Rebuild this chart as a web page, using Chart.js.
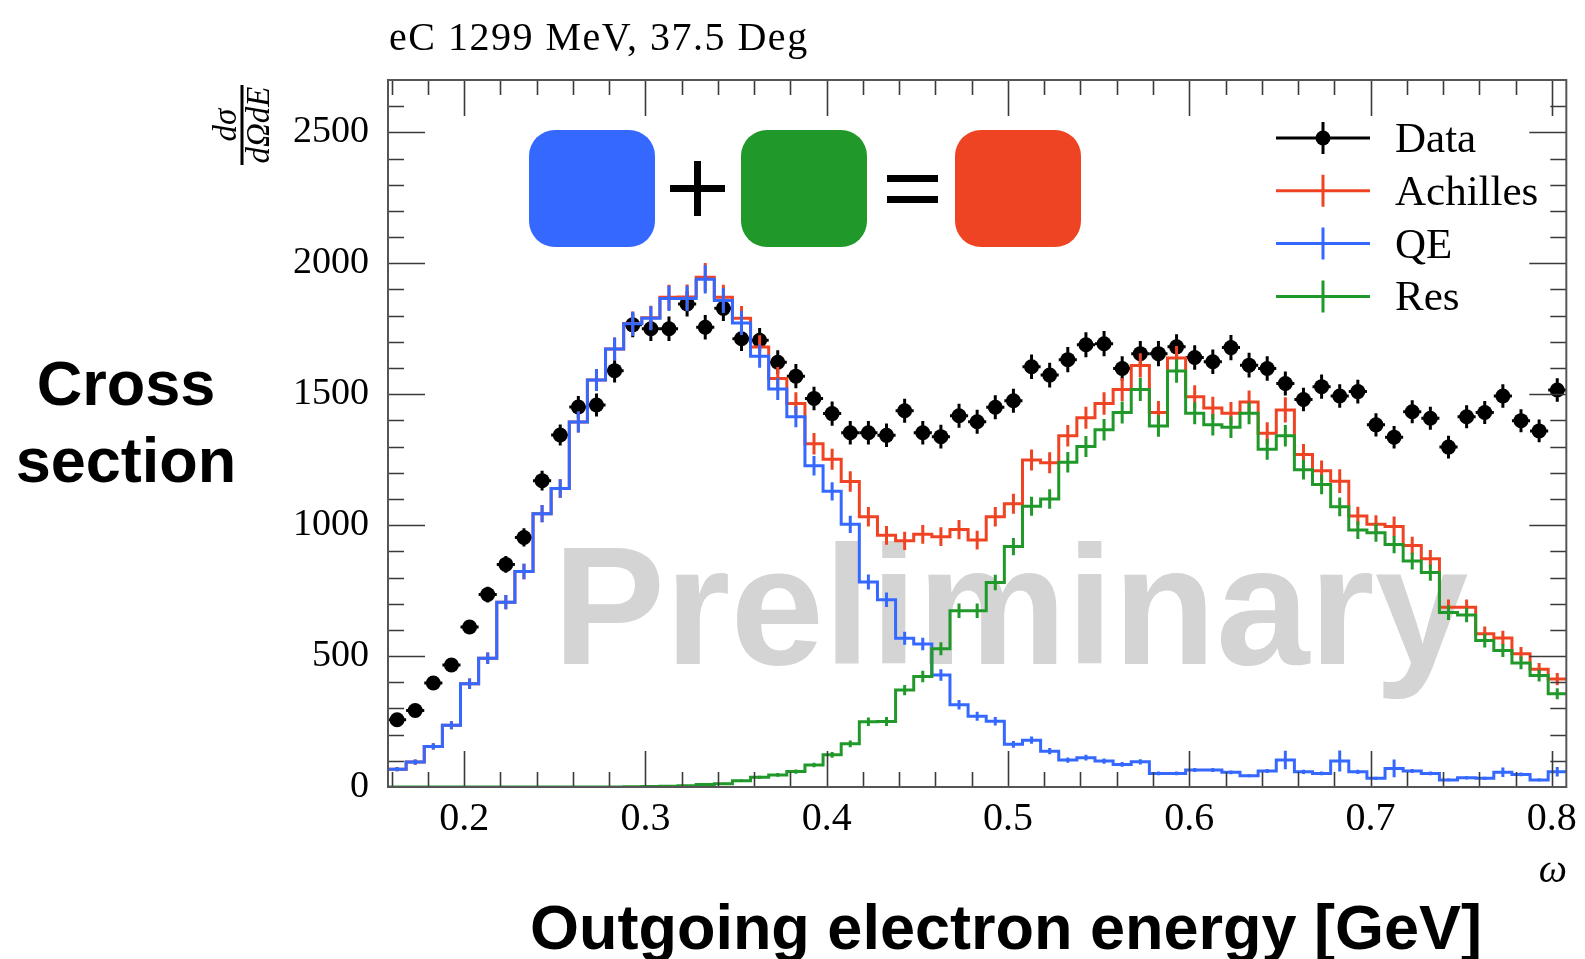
<!DOCTYPE html>
<html>
<head>
<meta charset="utf-8">
<script src="https://cdn.jsdelivr.net/npm/chart.js@4.4.1/dist/chart.umd.min.js"></script>
<style>
  html, body { margin: 0; padding: 0; background: #fff; }
  #wrap { width: 1585px; height: 959px; }
</style>
</head>
<body>
<div id="wrap"><canvas id="xsec" width="1585" height="959"></canvas></div>
<script>
// Bin centres (omega, GeV), bins are 0.01 wide
const binCenters = [
    0.163, 0.173, 0.183, 0.193, 0.203, 0.213, 0.223, 0.233, 0.243, 0.253,
    0.263, 0.273, 0.283, 0.293, 0.303, 0.313, 0.323, 0.333, 0.343, 0.353,
    0.363, 0.373, 0.383, 0.393, 0.403, 0.413, 0.423, 0.433, 0.443, 0.453,
    0.463, 0.473, 0.483, 0.493, 0.503, 0.513, 0.523, 0.533, 0.543, 0.553,
    0.563, 0.573, 0.583, 0.593, 0.603, 0.613, 0.623, 0.633, 0.643, 0.653,
    0.663, 0.673, 0.683, 0.693, 0.703, 0.713, 0.723, 0.733, 0.743, 0.753,
    0.763, 0.773, 0.783, 0.793, 0.803
];
const binWidth = 0.01;

// Measured cross section
const dataValues = [
    257, 292, 397, 466, 611, 735, 850, 953, 1170, 1344,
    1451, 1459, 1590, 1765, 1750, 1750, 1845, 1756, 1828, 1712,
    1706, 1622, 1569, 1484, 1426, 1353, 1353, 1343, 1437, 1353,
    1338, 1418, 1395, 1450, 1475, 1605, 1573, 1632, 1689, 1693,
    1598, 1655, 1655, 1681, 1640, 1624, 1678, 1611, 1598, 1541,
    1480, 1529, 1493, 1510, 1383, 1336, 1433, 1408, 1298, 1414,
    1430, 1493, 1399, 1360, 1516
];
const dataErrors = [
    18, 20, 22, 24, 27, 30, 32, 35, 38, 40,
    42, 44, 45, 47, 47, 47, 48, 47, 48, 47,
    47, 46, 46, 45, 46, 45, 45, 45, 46, 45,
    45, 46, 46, 46, 46, 47, 47, 48, 48, 48,
    47, 48, 48, 48, 47, 47, 48, 47, 47, 46,
    45, 46, 45, 45, 44, 43, 44, 44, 43, 44,
    44, 45, 44, 43, 45
];

// Achilles total (QE + Res)
const achillesValues = [
    68, 95, 155, 236, 394, 492, 706, 823, 1044, 1140,
    1394, 1554, 1673, 1770, 1792, 1870, 1871, 1947, 1870, 1790,
    1680, 1560, 1465, 1311, 1252, 1167, 1032, 961, 940, 965,
    956, 983, 943, 1032, 1082, 1249, 1238, 1341, 1410, 1465,
    1518, 1610, 1430, 1638, 1490, 1447, 1427, 1470, 1351, 1440,
    1270, 1208, 1168, 1035, 1003, 995, 922, 872, 686, 686,
    585, 569, 509, 450, 412
];
const achillesErrors = [
    8, 10, 12, 15, 20, 22, 27, 30, 33, 35,
    40, 42, 44, 46, 46, 48, 48, 54, 48, 47,
    45, 44, 43, 41, 40, 39, 37, 36, 35, 36,
    36, 37, 36, 37, 38, 40, 40, 41, 42, 43,
    44, 46, 44, 46, 44, 43, 43, 44, 42, 48,
    40, 39, 45, 35, 35, 38, 34, 33, 30, 30,
    28, 28, 26, 24, 23
];

// Quasi-elastic part
const qeValues = [
    68, 95, 155, 236, 394, 492, 706, 823, 1044, 1140,
    1394, 1554, 1673, 1769, 1790, 1866, 1866, 1939, 1858, 1772,
    1645, 1520, 1414, 1227, 1129, 1003, 783, 715, 568, 546,
    428, 314, 270, 251, 163, 179, 137, 103, 112, 99,
    86, 96, 52, 52, 65, 65, 56, 43, 61, 103,
    58, 52, 99, 58, 33, 71, 61, 52, 27, 35,
    33, 56, 48, 27, 58
];
const qeErrors = [
    8, 10, 12, 15, 20, 22, 27, 30, 33, 35,
    40, 42, 44, 46, 46, 48, 48, 54, 48, 46,
    44, 42, 40, 37, 35, 33, 29, 28, 25, 24,
    22, 18, 17, 16, 13, 14, 12, 10, 11, 10,
    9, 10, 7, 7, 8, 8, 7, 6, 8, 35,
    8, 7, 40, 8, 6, 34, 8, 7, 5, 6,
    6, 18, 7, 5, 18
];

// Resonance part
const resValues = [
    0, 0, 0, 0, 0, 0, 0, 0, 0, 0,
    0, 0, 0, 1, 2, 3, 5, 10, 12, 24,
    37, 46, 59, 84, 123, 165, 249, 250, 370, 422,
    528, 673, 673, 781, 918, 1072, 1100, 1240, 1300, 1364,
    1430, 1518, 1379, 1589, 1427, 1383, 1374, 1427, 1290, 1341,
    1212, 1155, 1070, 981, 971, 926, 863, 819, 666, 657,
    559, 521, 474, 426, 356
];
const resErrors = [
    0, 0, 0, 0, 0, 0, 0, 0, 0, 0,
    0, 0, 0, 1, 1, 2, 2, 3, 4, 5,
    6, 7, 8, 9, 11, 13, 16, 17, 20, 22,
    25, 28, 28, 30, 33, 36, 37, 39, 40, 41,
    42, 44, 41, 45, 42, 41, 41, 42, 40, 41,
    38, 37, 36, 34, 34, 33, 32, 31, 28, 28,
    26, 25, 24, 23, 21
];

// Axis ticks
const xTickLabels = [0.2, 0.3, 0.4, 0.5, 0.6, 0.7, 0.8];
const yTickLabels = [0, 500, 1000, 1500, 2000, 2500];

const colData = '#000000';
const colAchilles = '#EF4423';
const colQE = '#3568FF';
const colRes = '#21992A';
const serif = '"Liberation Serif", "DejaVu Serif", serif';
const sans = '"Liberation Sans", Arial, sans-serif';

// Step histogram: one point at each left bin edge, plus the last right edge
function histPoints(values) {
    const pts = values.map((v, k) => ({ x: binCenters[k] - binWidth / 2, y: v }));
    const last = values.length - 1;
    pts.push({ x: binCenters[last] + binWidth / 2, y: values[last] });
    return pts;
}

function roundBox(ctx, x, y, w, h, r) {
    ctx.beginPath();
    ctx.moveTo(x + r, y);
    ctx.arcTo(x + w, y, x + w, y + h, r);
    ctx.arcTo(x + w, y + h, x, y + h, r);
    ctx.arcTo(x, y + h, x, y, r);
    ctx.arcTo(x, y, x + w, y, r);
    ctx.closePath();
}

// Everything around the histograms: frame, inward ticks, error bars, texts
const histDecor = {
    id: 'histDecor',
    beforeDraw(chart) {
        const ctx = chart.ctx;
        ctx.save();
        ctx.fillStyle = '#fff';
        ctx.fillRect(0, 0, chart.width, chart.height);
        ctx.restore();
    },
    beforeDatasetsDraw(chart) {
        const ctx = chart.ctx;
        ctx.save();
        ctx.font = 'bold 168px ' + sans;
        ctx.fillStyle = '#D4D4D4';
        ctx.textBaseline = 'alphabetic';
        ctx.fillText('Preliminary', 553, 664);
        ctx.restore();
    },
    afterDatasetDraw(chart, args) {
        const ds = chart.data.datasets[args.index];
        if (!ds.errors) return;
        const { ctx, chartArea: a } = chart;
        const x = chart.scales.x, y = chart.scales.y;
        ctx.save();
        ctx.beginPath();
        ctx.rect(a.left, a.top, a.width, a.height);
        ctx.clip();
        ctx.strokeStyle = ds.barColor;
        ctx.lineWidth = 3;
        ds.values.forEach((v, k) => {
            const px = x.getPixelForValue(binCenters[k]);
            ctx.beginPath();
            ctx.moveTo(px, y.getPixelForValue(v - ds.errors[k]));
            ctx.lineTo(px, y.getPixelForValue(v + ds.errors[k]));
            if (ds.isData) {
                const py = y.getPixelForValue(v);
                ctx.moveTo(x.getPixelForValue(binCenters[k] - binWidth / 2), py);
                ctx.lineTo(x.getPixelForValue(binCenters[k] + binWidth / 2), py);
            }
            ctx.stroke();
        });
        ctx.restore();
    },
    afterDraw(chart) {
        const { ctx, chartArea: a } = chart;
        const x = chart.scales.x, y = chart.scales.y;
        ctx.save();

        // inward ticks on all four sides
        ctx.strokeStyle = '#3a3a3a';
        ctx.lineWidth = 1.6;
        ctx.beginPath();
        for (let v = 100; v < 2700; v += 100) {
            const len = v % 500 === 0 ? 37 : 16;
            const py = Math.round(y.getPixelForValue(v)) + 0.5;
            ctx.moveTo(a.left, py); ctx.lineTo(a.left + len, py);
            ctx.moveTo(a.right, py); ctx.lineTo(a.right - len, py);
        }
        for (let i = 8; i <= 40; i++) {
            const v = i / 50;
            const len = i % 5 === 0 ? 36 : 15;
            const px = Math.round(x.getPixelForValue(v)) + 0.5;
            ctx.moveTo(px, a.bottom); ctx.lineTo(px, a.bottom - len);
            ctx.moveTo(px, a.top); ctx.lineTo(px, a.top + len);
        }
        ctx.stroke();
        ctx.strokeStyle = '#555';
        ctx.lineWidth = 2;
        ctx.strokeRect(a.left, a.top, a.width, a.height);

        // title
        ctx.fillStyle = '#000';
        ctx.font = '40px ' + serif;
        ctx.textAlign = 'left';
        ctx.textBaseline = 'alphabetic';
        ctx.letterSpacing = '1.5px';
        ctx.fillText('eC 1299 MeV, 37.5 Deg', 389, 50);
        ctx.letterSpacing = '0px';

        // y label d sigma / d Omega dE, rotated
        ctx.save();
        ctx.translate(242, 125);
        ctx.rotate(-Math.PI / 2);
        ctx.font = 'italic 33px ' + serif;
        ctx.textAlign = 'center';
        ctx.fillText('d\u03C3', 0, -6);
        ctx.fillText('d\u03A9dE', 0, 27);
        ctx.fillRect(-40, -1.5, 80, 3);
        ctx.restore();

        // omega on the x axis end
        ctx.font = 'italic 40px ' + serif;
        ctx.textAlign = 'right';
        ctx.fillText('\u03C9', 1567, 882);

        // big annotations
        ctx.font = 'bold 63px ' + sans;
        ctx.textAlign = 'center';
        ctx.fillText('Cross', 126, 405);
        ctx.fillText('section', 126, 482);
        ctx.fillText('Outgoing electron energy [GeV]', 1006, 949);

        // blue + green = red
        [[529, colQE], [741, colRes], [955, colAchilles]].forEach(([bx, c]) => {
            ctx.fillStyle = c;
            roundBox(ctx, bx, 130, 126, 117, 26);
            ctx.fill();
        });
        ctx.fillStyle = '#000';
        ctx.fillRect(670, 185, 55, 7);
        ctx.fillRect(694, 161, 7, 55);
        ctx.fillRect(887, 175, 51, 7);
        ctx.fillRect(887, 196, 51, 7);

        // legend
        const rows = [
            ['Data', colData, true],
            ['Achilles', colAchilles, false],
            ['QE', colQE, false],
            ['Res', colRes, false]
        ];
        rows.forEach(([name, c, dot], i) => {
            const ry = 138 + i * 52.8;
            ctx.strokeStyle = c;
            ctx.fillStyle = c;
            ctx.lineWidth = 3;
            ctx.beginPath();
            ctx.moveTo(1276, ry); ctx.lineTo(1370, ry);
            ctx.moveTo(1323, ry - 16); ctx.lineTo(1323, ry + 16);
            ctx.stroke();
            if (dot) {
                ctx.beginPath();
                ctx.arc(1323, ry, 7.5, 0, Math.PI * 2);
                ctx.fill();
            }
            ctx.fillStyle = '#000';
            ctx.font = '43px ' + serif;
            ctx.textAlign = 'left';
            ctx.fillText(name, 1395, ry + 14);
        });
        ctx.restore();
    }
};

const chart = new Chart(document.getElementById('xsec'), {
    type: 'line',
    data: {
        datasets: [
            {
                label: 'Res', data: histPoints(resValues), values: resValues, errors: resErrors,
                borderColor: colRes, barColor: colRes, borderWidth: 3, stepped: 'before',
                pointRadius: 0, fill: false, order: 1
            },
            {
                label: 'QE', data: histPoints(qeValues), values: qeValues, errors: qeErrors,
                borderColor: colQE, barColor: colQE, borderWidth: 3, stepped: 'before',
                pointRadius: 0, fill: false, order: 2
            },
            {
                label: 'Achilles', data: histPoints(achillesValues), values: achillesValues, errors: achillesErrors,
                borderColor: colAchilles, barColor: colAchilles, borderWidth: 3, stepped: 'before',
                pointRadius: 0, fill: false, order: 3
            },
            {
                label: 'Data', data: binCenters.map((c, k) => ({ x: c, y: dataValues[k] })),
                values: dataValues, errors: dataErrors, isData: true, barColor: colData,
                showLine: false, pointRadius: 7.5, pointBackgroundColor: colData,
                pointBorderWidth: 0, borderColor: colData, order: 4
            }
        ]
    },
    options: {
        responsive: false,
        animation: false,
        devicePixelRatio: 1,
        layout: { padding: { left: 0, right: 15, top: 80, bottom: 78 } },
        plugins: { legend: { display: false }, tooltip: { enabled: false } },
        scales: {
            x: {
                type: 'linear',
                min: 0.158,
                max: 0.808,
                grid: { display: false, drawTicks: false },
                border: { display: false },
                afterFit: (s) => { s.height = 94; },
                afterBuildTicks: (s) => { s.ticks = xTickLabels.map(v => ({ value: v })); },
                ticks: {
                    font: { family: serif, size: 40 },
                    color: '#000',
                    padding: 8,
                    maxRotation: 0,
                    autoSkip: false,
                    callback: (v) => v.toFixed(1)
                }
            },
            y: {
                type: 'linear',
                min: 0,
                max: 2700,
                grid: { display: false, drawTicks: false },
                border: { display: false },
                afterFit: (s) => { s.width = 388; },
                afterBuildTicks: (s) => { s.ticks = yTickLabels.map(v => ({ value: v })); },
                ticks: {
                    font: { family: serif, size: 38 },
                    color: '#000',
                    padding: 19,
                    autoSkip: false,
                    callback: (v) => String(v)
                }
            }
        }
    },
    plugins: [histDecor]
});
</script>
</body>
</html>
